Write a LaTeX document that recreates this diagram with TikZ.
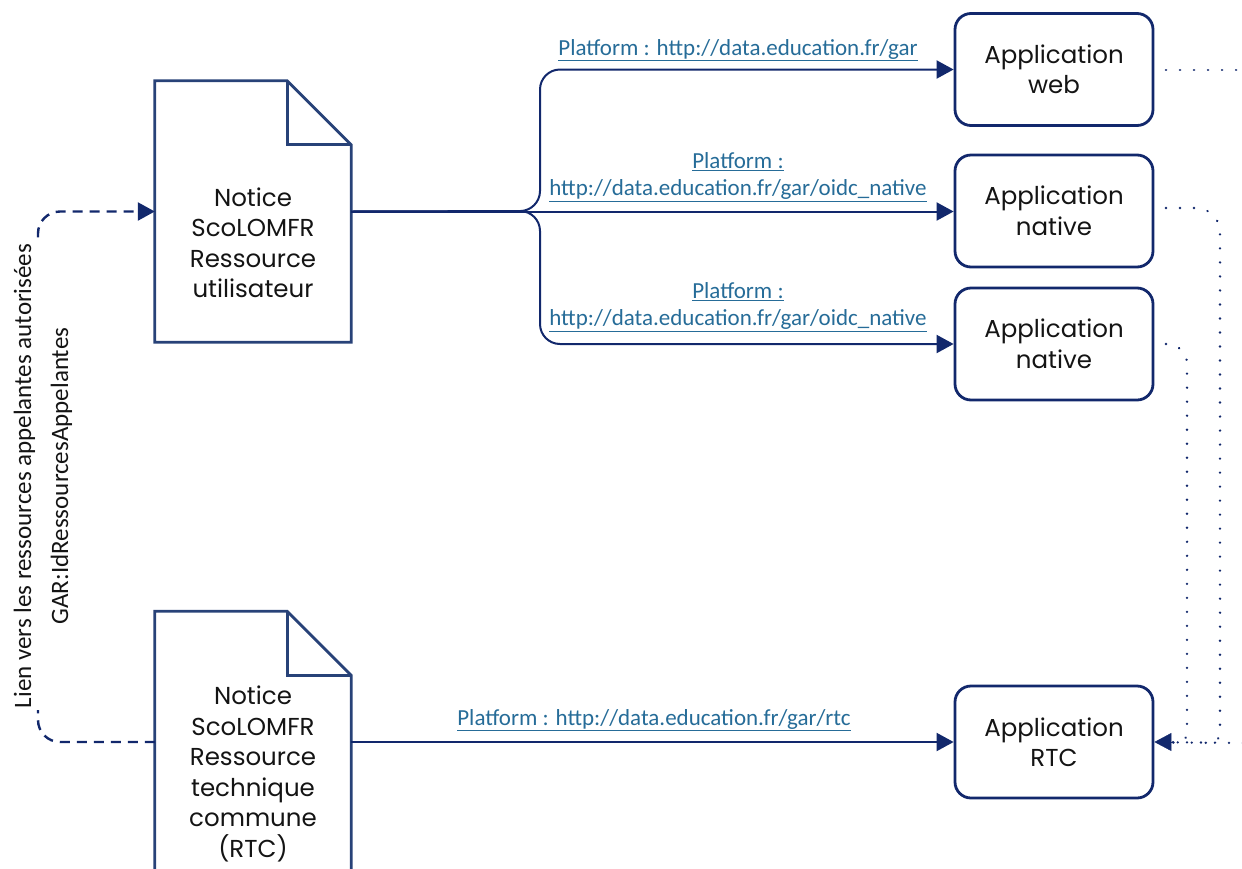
\documentclass[tikz,border=0pt]{standalone}
\usepackage{fontspec}
\setmainfont{Poppins}
\newfontfamily\linkfont{Carlito}
\usetikzlibrary{arrows.meta,calc}
\definecolor{navy}{RGB}{18,40,108}
\definecolor{docline}{RGB}{40,66,120}
\definecolor{linkblue}{RGB}{38,108,152}
\definecolor{txt}{RGB}{20,20,20}
\begin{document}
\begin{tikzpicture}[x=1pt,y=-1pt,
  doc/.style={draw=none,minimum width=196,minimum height=261,inner sep=0},
  doctext/.style={text=txt,align=center,font=\fontsize{24.5}{30.5}\selectfont},
  app/.style={draw=navy,line width=2.8,rounded corners=16,minimum width=198,minimum height=112,
    text=txt,align=center,font=\fontsize{24.5}{30.5}\selectfont},
  conn/.style={draw=navy,line width=2,-{Triangle[length=17,width=18]}},
  dashconn/.style={draw=navy,line width=2.4,dash pattern=on 10 off 7,-{Triangle[length=17,width=18]}},
  dots/.style={draw=navy,line width=2.6,line cap=round,dash pattern=on 0.01 off 14},
  lnk/.style={text=linkblue,align=center,font=\linkfont\fontsize{23}{27}\selectfont},
  sidelabel/.style={text=txt,align=center,rotate=90,fill=white,inner sep=2,font=\linkfont\fontsize{25}{37}\selectfont}
]
\useasboundingbox (0,0) rectangle (1242,868);
% documents
\node[doc] (doc1) at (253,211.5) {};
\node[doc] (doc2) at (253,742) {};
\foreach \d in {doc1,doc2}{
  \draw[docline,line width=2.8,line join=miter]
    (\d.south west) -- (\d.north west) -- ($(\d.north east)+(-64,0)$) -- ($(\d.north east)+(0,64)$) -- (\d.south east) -- cycle;
  \draw[docline,line width=2.8,line join=miter]
    ($(\d.north east)+(-64,0)$) -- ($(\d.north east)+(-64,64)$) -- ($(\d.north east)+(0,64)$);
}
\node[doctext] (t1) at (253,243) {Notice\\ScoLOMFR\\Ressource\\utilisateur};
\node[doctext] (t2) at (253,774) {Notice\\ScoLOMFR\\Ressource\\technique\\commune\\(RTC)};
% applications
\node[app] (app1) at (1054,69.5) {Application\\web};
\node[app] (app2) at (1054,211) {Application\\native};
\node[app] (app3) at (1054,344) {Application\\native};
\node[app] (app4) at (1054,742) {Application\\RTC};
% connectors from doc1
\coordinate (br) at (540,211);
\draw[conn,rounded corners=20] (doc1.east) -- (br) |- (app1.west);
\draw[conn] (doc1.east) -- (doc1.east -| app2.west);
\draw[conn,rounded corners=20] (doc1.east) -- (br) |- (app3.west);
\draw[conn] (doc2.east) -- (app4.west);
% link labels
\node[lnk] (l1) at (738,50) {\underline{Platform : http://data.education.fr/gar}};
\node[lnk] (l2) at (738,177) {\underline{Platform :}\\\underline{http://data.education.fr/gar/oidc\_native}};
\node[lnk] (l3) at (738,307) {\underline{Platform :}\\\underline{http://data.education.fr/gar/oidc\_native}};
\node[lnk] (l4) at (654,720) {\underline{Platform : http://data.education.fr/gar/rtc}};
% dashed back link
\draw[dashconn,rounded corners=22] (doc2.west) -- (38,742) -- (38,211.5) -- (doc1.west);
\node[sidelabel] (side) at (43,476) {Lien vers les ressources appelantes autoris\'ees\\GAR:IdRessourcesAppelantes};
% dotted links on the right
\coordinate (e1) at (1243,70);
\coordinate (e4) at (1243,743);
\coordinate (s1) at (1166,70);
\coordinate (s2) at (1166,208);
\coordinate (s3) at (1166,344);
\draw[dots] (s1) -- (e1);
\draw[dots,rounded corners=24] (s2) -- (1220,208) [rounded corners=10] -- (1220,743) -- (app4.east);
\draw[dots,rounded corners=20] (s3) -- (1187,344) [rounded corners=10] -- (1187,743) -- (app4.east);
\draw[dots] (e4) -- (app4.east);
\draw[navy,-{Triangle[length=17,width=18]}] ($(app4.east)+(19,0)$) -- (app4.east);
\end{tikzpicture}
\end{document}
